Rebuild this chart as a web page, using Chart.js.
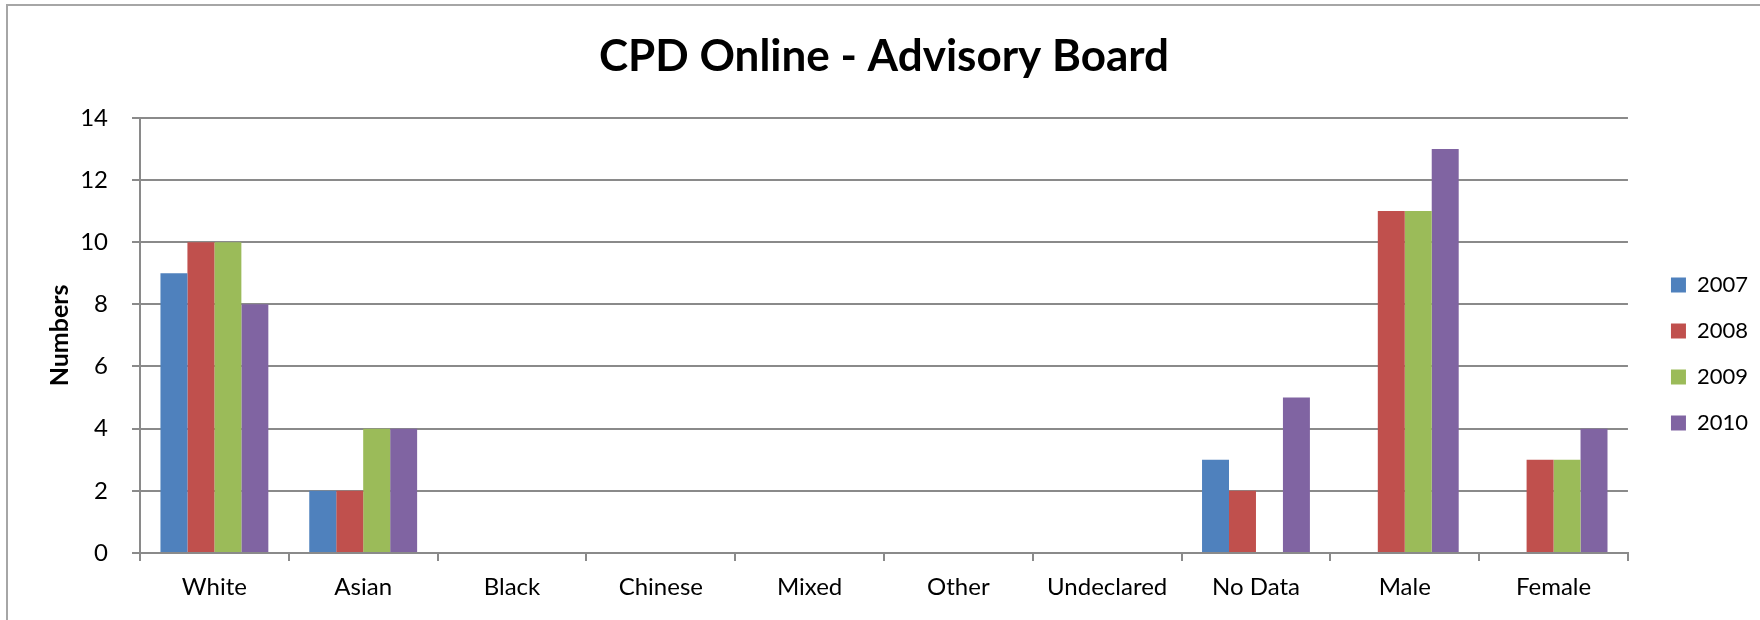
<!DOCTYPE html>
<html>

<head>
    <meta charset="utf-8">
    <title>CPD Online - Advisory Board</title>
    <style>
        body { margin: 0; background: #fff; overflow: hidden; }
        #frame { position: absolute; left: 6px; top: 4px; width: 1800px; height: 700px; border: 2px solid #a6a6a6; box-sizing: border-box; }
        #myChart { position: absolute; left: 0; top: 0; }
    </style>
</head>

<body>
    <div id="frame"></div>
    <canvas id="myChart" width="1760" height="620"></canvas>
    <script src="https://cdn.jsdelivr.net/npm/chart.js@4.4.6/dist/chart.umd.min.js"></script>
    <script>
        const categories = ["White", "Asian", "Black", "Chinese", "Mixed", "Other", "Undeclared", "No Data", "Male", "Female"]
        const seriesNames = ["2007", "2008", "2009", "2010"]
        const values2007 = [9, 2, 0, 0, 0, 0, 0, 3, 0, 0]
        const values2008 = [10, 2, 0, 0, 0, 0, 0, 2, 11, 3]
        const values2009 = [10, 4, 0, 0, 0, 0, 0, 0, 11, 3]
        const values2010 = [8, 4, 0, 0, 0, 0, 0, 5, 13, 4]
        const yTicks = [0, 2, 4, 6, 8, 10, 12, 14]

        const COLORS = ["#4f81bd", "#c0504d", "#9bbb59", "#8064a2"]
        const GRID = "#8a8a8a"
        const FONT = "Lato, 'Open Sans', sans-serif"
        const LEGEND_GAP = 19
        const LEGEND_DY = 44

        // push the legend away from the plot area like the original
        const legendGap = {
            id: "legendGap",
            beforeInit(chart) {
                const fit = chart.legend.fit
                chart.legend.fit = function () {
                    fit.call(this)
                    this.width += LEGEND_GAP
                }
            },
            afterLayout(chart) {
                chart.legend.left += LEGEND_GAP
                chart.legend.top += LEGEND_DY
                chart.legend.bottom += LEGEND_DY
            },
        }

        const allValues = [values2007, values2008, values2009, values2010]
        const config = {
            type: "bar",
            data: {
                labels: categories,
                datasets: seriesNames.map((name, i) => ({
                    label: name,
                    data: allValues[i],
                    backgroundColor: COLORS[i],
                    borderWidth: 0,
                    categoryPercentage: 0.725,
                    barPercentage: 1,
                })),
            },
            options: {
                responsive: false,
                devicePixelRatio: 1,
                animation: false,
                layout: {
                    padding: { left: 41, right: 2, top: 0, bottom: 0 },
                },
                plugins: {
                    title: {
                        display: true,
                        fullSize: false,
                        text: "CPD Online - Advisory Board",
                        color: "#000",
                        font: { family: FONT, size: 44, weight: "bold" },
                        padding: { top: 30, bottom: 35 },
                    },
                    legend: {
                        position: "right",
                        labels: {
                            color: "#000",
                            font: { family: FONT, size: 22 },
                            boxWidth: 15,
                            boxHeight: 15,
                            padding: 24,
                        },
                    },
                    tooltip: { enabled: false },
                },
                scales: {
                    x: {
                        grid: {
                            display: true,
                            drawOnChartArea: false,
                            drawTicks: true,
                            tickLength: 8,
                            color: GRID,
                            lineWidth: 2,
                        },
                        border: { display: true, color: GRID, width: 2 },
                        ticks: {
                            color: "#000",
                            font: { family: FONT, size: 24 },
                            padding: 12,
                            maxRotation: 0,
                        },
                        afterFit(scale) {
                            scale.height = 67
                        },
                    },
                    y: {
                        min: yTicks[0],
                        max: yTicks[yTicks.length - 1],
                        afterBuildTicks(scale) {
                            scale.ticks = yTicks.map(v => ({ value: v }))
                        },
                        grid: {
                            color: GRID,
                            lineWidth: 2,
                            tickLength: 8,
                        },
                        border: { display: true, color: GRID, width: 2 },
                        ticks: {
                            color: "#000",
                            font: { family: FONT, size: 24 },
                            padding: 24,
                        },
                        title: {
                            display: true,
                            text: "Numbers",
                            color: "#000",
                            font: { family: FONT, size: 25, weight: "bold" },
                        },
                        afterFit(scale) {
                            scale.width = 99
                        },
                    },
                },
            },
            plugins: [legendGap],
        }

        new Chart(document.getElementById("myChart"), config)
    </script>
</body>

</html>
